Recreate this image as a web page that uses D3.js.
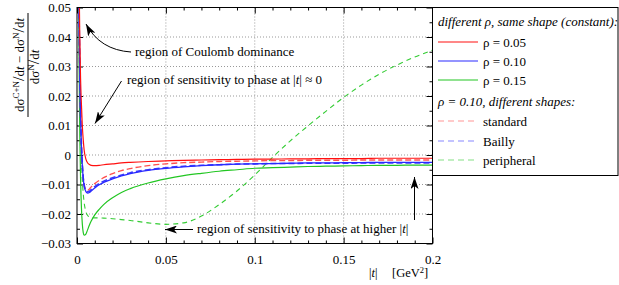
<!DOCTYPE html>
<html>
<head>
<meta charset="utf-8">
<script src="https://cdn.jsdelivr.net/npm/d3@7"></script>
<style>
  body { margin: 0; background: #fff; }
  svg text { font-family: "Liberation Serif", "Times New Roman", "DejaVu Serif", serif; }
</style>
</head>
<body>
<svg id="chart" width="619" height="285"></svg>
<script>
// |t| grid in GeV^2 (shared by all curves)
var tVals = [0.0008, 0.0012, 0.0016, 0.002, 0.0025, 0.003, 0.0035, 0.004, 0.005, 0.006, 0.007, 0.008,
  0.01, 0.0125, 0.015, 0.02, 0.025, 0.03, 0.04, 0.05, 0.06, 0.07, 0.08, 0.09, 0.1,
  0.11, 0.12, 0.13, 0.14, 0.15, 0.16, 0.17, 0.18, 0.19, 0.2];

// different rho, constant shape
var rho005 = [0.095, 0.058, 0.039, 0.026, 0.017, 0.0098, 0.0052, 0.0018, -0.0014, -0.0027, -0.0032, -0.0035,
  -0.0036, -0.0035, -0.0033, -0.0030, -0.0027, -0.0025, -0.0022, -0.0020, -0.0018, -0.0017, -0.0016, -0.0015, -0.0014,
  -0.0014, -0.0013, -0.0013, -0.0012, -0.0012, -0.0012, -0.0011, -0.0011, -0.0011, -0.0011];
var rho010 = [0.085, 0.048, 0.027, 0.0135, 0.003, -0.0035, -0.0078, -0.0103, -0.0124, -0.0129, -0.0127, -0.0122,
  -0.0112, -0.0101, -0.0093, -0.0081, -0.0071, -0.0063, -0.0052, -0.0045, -0.0040, -0.0036, -0.0033, -0.0031, -0.0030,
  -0.0029, -0.0028, -0.0027, -0.0027, -0.0026, -0.0026, -0.0025, -0.0025, -0.0025, -0.0025];
var rho015 = [0.07, 0.03, 0.006, -0.008, -0.018, -0.0235, -0.0262, -0.0272, -0.0268, -0.0253, -0.0237, -0.0224,
  -0.0203, -0.0184, -0.0168, -0.0145, -0.0127, -0.0114, -0.0095, -0.0081, -0.0070, -0.0062, -0.0055, -0.0050, -0.0045,
  -0.0043, -0.0041, -0.0039, -0.0038, -0.0037, -0.0036, -0.0035, -0.0035, -0.0034, -0.0034];

// rho = 0.10, different shapes
var standard = [0.085, 0.048, 0.027, 0.0135, 0.0032, -0.0033, -0.0075, -0.0099, -0.0118, -0.0120, -0.0115, -0.0108,
  -0.0097, -0.0086, -0.0077, -0.0063, -0.0053, -0.0046, -0.0036, -0.0030, -0.0026, -0.0024, -0.0022, -0.0021, -0.0020,
  -0.0019, -0.0019, -0.0018, -0.0018, -0.0018, -0.0017, -0.0017, -0.0017, -0.0017, -0.0017];
var bailly = [0.085, 0.048, 0.027, 0.0135, 0.0031, -0.0034, -0.0077, -0.0101, -0.0121, -0.0125, -0.0123, -0.0117,
  -0.0107, -0.0097, -0.0089, -0.0077, -0.0068, -0.0060, -0.0050, -0.0043, -0.0038, -0.0035, -0.0033, -0.0031, -0.0030,
  -0.0029, -0.0029, -0.0028, -0.0028, -0.0028, -0.0027, -0.0027, -0.0027, -0.0027, -0.0027];
var peripheral = [0.075, 0.042, 0.022, 0.009, -0.0015, -0.0085, -0.0130, -0.0160, -0.0192, -0.0205, -0.0210, -0.0212,
  -0.0213, -0.0213, -0.0214, -0.0216, -0.0219, -0.0222, -0.0230, -0.0235, -0.0230, -0.0207, -0.0168, -0.0122, -0.0068,
  -0.0008, 0.0048, 0.0099, 0.0148, 0.0195, 0.0237, 0.0274, 0.0305, 0.0332, 0.0355];

var xTicks = [0, 0.05, 0.1, 0.15, 0.2];
var xTickLabels = ["0", "0.05", "0.1", "0.15", "0.2"];
var yTicks = [-0.03, -0.02, -0.01, 0, 0.01, 0.02, 0.03, 0.04, 0.05];
var yTickLabels = ["\u22120.03", "\u22120.02", "\u22120.01", "0", "0.01", "0.02", "0.03", "0.04", "0.05"];

var seriesNames = ["\u03c1 = 0.05", "\u03c1 = 0.10", "\u03c1 = 0.15", "standard", "Bailly", "peripheral"];
var seriesData = [rho005, rho010, rho015, standard, bailly, peripheral];

var styles = [
  { color: "#ff1010", width: 1.2, dash: null },
  { color: "#2a2aff", width: 1.3, dash: null },
  { color: "#22c622", width: 1.2, dash: null },
  { color: "#ff5050", width: 1.4, dash: "6,3" },
  { color: "#3a3aff", width: 1.6, dash: "6,3" },
  { color: "#33cc33", width: 1.1, dash: "5,4" }
];

var plotL = 77, plotR = 432.5, plotT = 7.5, plotB = 243.5;
var svg = d3.select("#chart");

var x = d3.scaleLinear().domain([0, 0.2]).range([plotL, plotR]);
var y = d3.scaleLinear().domain([-0.03, 0.05]).range([plotB, plotT]);

var defs = svg.append("defs");
defs.append("clipPath").attr("id", "plotclip")
  .append("rect").attr("x", plotL).attr("y", plotT).attr("width", plotR - plotL).attr("height", plotB - plotT);
defs.append("marker").attr("id", "head")
  .attr("markerUnits", "userSpaceOnUse")
  .attr("viewBox", "0 0 12 8").attr("refX", 12).attr("refY", 4)
  .attr("markerWidth", 12).attr("markerHeight", 8).attr("orient", "auto")
  .append("path").attr("d", "M0,0 L12,4 L0,8 L3,4 Z").attr("fill", "#000");

// grid
var xMajor = [0.05, 0.1, 0.15];
svg.append("g").selectAll("line").data(xMajor).join("line")
  .attr("x1", d => x(d)).attr("x2", d => x(d)).attr("y1", plotT).attr("y2", plotB)
  .attr("stroke", "#999").attr("stroke-dasharray", "1,2");
svg.append("g").selectAll("line").data(yTicks.slice(1, -1)).join("line")
  .attr("x1", plotL).attr("x2", plotR).attr("y1", d => y(d)).attr("y2", d => y(d))
  .attr("stroke", "#999").attr("stroke-dasharray", "1,2");

// ticks on all four sides, pointing inward
var xMinor = d3.range(0, 0.2001, 0.01).filter(v => Math.abs(v / 0.05 - Math.round(v / 0.05)) > 1e-6);
var yMinor = d3.range(-0.03, 0.0501, 0.005).filter(v => Math.abs(v / 0.01 - Math.round(v / 0.01)) > 1e-6);

function tickAxis(axis, vals, size, tr) {
  var g = svg.append("g").attr("transform", tr)
    .call(axis.tickValues(vals).tickSize(-size).tickFormat(""));
  g.select(".domain").remove();
  g.selectAll("line").attr("stroke", "#000");
  return g;
}
tickAxis(d3.axisBottom(x), xMinor, 3, "translate(0," + plotB + ")");
tickAxis(d3.axisTop(x), xMinor, 3, "translate(0," + plotT + ")");
tickAxis(d3.axisTop(x), xTicks, 6, "translate(0," + plotT + ")");
tickAxis(d3.axisLeft(y), yMinor, 3, "translate(" + plotL + ",0)");
tickAxis(d3.axisRight(y), yMinor, 3, "translate(" + plotR + ",0)");
tickAxis(d3.axisRight(y), yTicks, 6, "translate(" + plotR + ",0)");

var xAxis = svg.append("g").attr("transform", "translate(0," + plotB + ")")
  .call(d3.axisBottom(x).tickValues(xTicks).tickSize(-6).tickPadding(11)
    .tickFormat((d, i) => xTickLabels[i]));
xAxis.select(".domain").remove();
xAxis.attr("font-family", null);
xAxis.selectAll("line").attr("stroke", "#000");
xAxis.selectAll("text").attr("font-size", 13).attr("fill", "#000");

var yAxis = svg.append("g").attr("transform", "translate(" + plotL + ",0)")
  .call(d3.axisLeft(y).tickValues(yTicks).tickSize(-6).tickPadding(6)
    .tickFormat((d, i) => yTickLabels[i]));
yAxis.select(".domain").remove();
yAxis.attr("font-family", null);
yAxis.selectAll("line").attr("stroke", "#000");
yAxis.selectAll("text").attr("font-size", 13).attr("fill", "#000");

// curves
var line = d3.line().x(d => x(d[0])).y(d => y(d[1])).curve(d3.curveMonotoneX);
var curves = svg.append("g").attr("clip-path", "url(#plotclip)");
var drawOrder = [5, 2, 3, 4, 1, 0];
drawOrder.forEach(function (k) {
  var pts = tVals.map((t, i) => [t, seriesData[k][i]]);
  var p = curves.append("path").attr("d", line(pts)).attr("fill", "none")
    .attr("stroke", styles[k].color).attr("stroke-width", styles[k].width);
  if (styles[k].dash) p.attr("stroke-dasharray", styles[k].dash);
});

// frame
svg.append("rect").attr("x", plotL).attr("y", plotT).attr("width", plotR - plotL).attr("height", plotB - plotT)
  .attr("fill", "none").attr("stroke", "#000").attr("stroke-width", 1);

// annotations
var ann = svg.append("g").attr("font-size", 13).attr("fill", "#000");
ann.append("text").attr("x", 135).attr("y", 56).text("region of Coulomb dominance");
ann.append("text").attr("x", 127).attr("y", 84).html("region of sensitivity to phase at |<tspan font-style='italic'>t</tspan>| \u2248 0");
ann.append("text").attr("x", 197).attr("y", 233).html("region of sensitivity to phase at higher |<tspan font-style='italic'>t</tspan>|");

svg.append("path").attr("d", "M131,52 Q100,50 86,24").attr("fill", "none")
  .attr("stroke", "#000").attr("stroke-width", 1).attr("marker-end", "url(#head)");
svg.append("line").attr("x1", 121.5).attr("y1", 81).attr("x2", 95).attr("y2", 123.5)
  .attr("stroke", "#000").attr("stroke-width", 1).attr("marker-end", "url(#head)");
svg.append("line").attr("x1", 193).attr("y1", 229.5).attr("x2", 165).attr("y2", 229.5)
  .attr("stroke", "#000").attr("stroke-width", 1).attr("marker-end", "url(#head)");
svg.append("line").attr("x1", 414.5).attr("y1", 220).attr("x2", 414.5).attr("y2", 177)
  .attr("stroke", "#000").attr("stroke-width", 1).attr("marker-end", "url(#head)");

// axis titles
svg.append("text").attr("x", 369).attr("y", 277).attr("font-size", 12.5)
  .html("|<tspan font-style='italic'>t</tspan>|<tspan x='392'>[GeV</tspan><tspan font-size='8.5' dy='-4.5'>2</tspan><tspan dy='4.5'>]</tspan>");

var yl = svg.append("g").attr("font-size", 13);
yl.append("text").attr("transform", "translate(24,65) rotate(-90)").attr("text-anchor", "middle")
  .html("d\u03c3<tspan font-size='9' dy='-5'>C+N</tspan><tspan dy='5' font-size='16'>/</tspan>d<tspan font-style='italic'>t</tspan> \u2212 d\u03c3<tspan font-size='9' dy='-5'>N</tspan><tspan dy='5' font-size='16'>/</tspan>d<tspan font-style='italic'>t</tspan>");
yl.append("line").attr("x1", 28).attr("x2", 28).attr("y1", 13).attr("y2", 117).attr("stroke", "#000");
yl.append("text").attr("transform", "translate(39,67) rotate(-90)").attr("text-anchor", "middle")
  .html("d\u03c3<tspan font-size='9' dy='-5'>N</tspan><tspan dy='5' font-size='16'>/</tspan>d<tspan font-style='italic'>t</tspan>");

// legend
var lg = svg.append("g");
lg.append("rect").attr("x", 432.5).attr("y", 7.5).attr("width", 185.5).attr("height", 168)
  .attr("fill", "#fff").attr("stroke", "#000");
lg.append("text").attr("x", 438).attr("y", 26).attr("font-size", 13).attr("font-style", "italic")
  .text("different \u03c1, same shape (constant):");
lg.append("text").attr("x", 438).attr("y", 106).attr("font-size", 13).attr("font-style", "italic")
  .text("\u03c1 = 0.10, different shapes:");
var legendY = [42, 61, 80, 121, 141, 160];
seriesNames.forEach(function (name, k) {
  var l = lg.append("line").attr("x1", 438).attr("x2", 478).attr("y1", legendY[k]).attr("y2", legendY[k])
    .attr("stroke", styles[k].color).attr("stroke-width", 1.2).attr("opacity", k < 3 ? 1 : 0.6);
  if (styles[k].dash) l.attr("stroke-dasharray", "6,4");
  lg.append("text").attr("x", 483).attr("y", legendY[k] + 4.5).attr("font-size", 13).text(name);
});
</script>
</body>
</html>
